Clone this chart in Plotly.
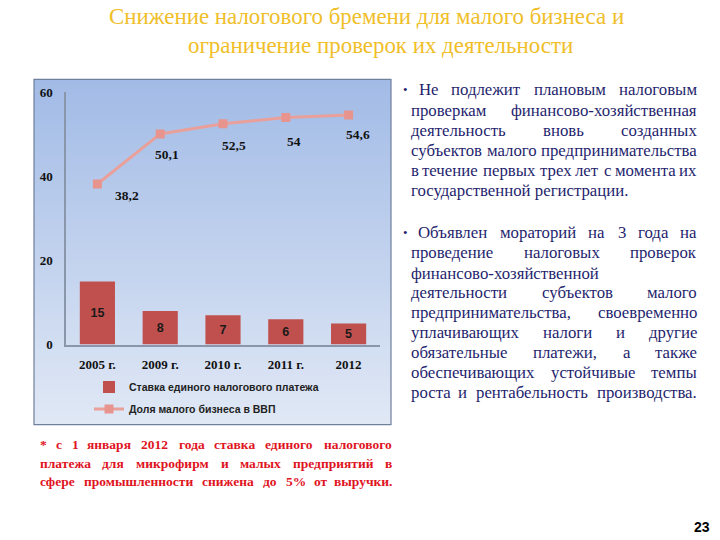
import plotly.graph_objects as go

# ---------------- data ----------------
years = ["2005 г.", "2009 г.", "2010 г.", "2011 г.", "2012"]
tax_rate = [15, 8, 7, 6, 5]
sme_share = [38.2, 50.1, 52.5, 54, 54.6]
share_labels = ["38,2", "50,1", "52,5", "54", "54,6"]
y_ticks = [0, 20, 40, 60]

title_lines = ["Снижение налогового бремени для малого бизнеса и",
               "ограничение проверок их деятельности"]

block1 = ["Не подлежит плановым налоговым",
          "проверкам финансово-хозяйственная",
          "деятельность вновь созданных",
          "субъектов малого предпринимательства",
          "в течение первых трех лет с момента их",
          "государственной регистрации."]
block2 = ["Объявлен мораторий на 3 года на",
          "проведение налоговых проверок",
          "финансово-хозяйственной",
          "деятельности субъектов малого",
          "предпринимательства, своевременно",
          "уплачивающих налоги и другие",
          "обязательные платежи, а также",
          "обеспечивающих устойчивые темпы",
          "роста и рентабельность производства."]
footnote = ["* с 1 января 2012 года ставка единого налогового",
            "платежа для микрофирм и малых предприятий в",
            "сфере промышленности снижена до 5% от выручки."]
page_no = "23"

SERIF = "Liberation Serif, Times New Roman, Tinos, DejaVu Serif, serif"
SANS = "Liberation Sans, Arial, DejaVu Sans, sans-serif"

# ---------------- layout helpers ----------------
W, H = 720, 540
VS = 556 / 540          # vertical compensation for the capture
def px(x): return x / W
def py(y): return 1 - (y * VS - 8) / H

GLYPH = {"а":444,"б":500,"в":472,"г":410,"д":510,"е":444,"ё":444,"ж":691,"з":395,"и":535,
         "й":535,"к":486,"л":499,"м":633,"н":535,"о":500,"п":535,"р":500,"с":444,"т":437,
         "у":500,"ф":648,"х":500,"ц":535,"ч":503,"ш":770,"щ":770,"ъ":517,"ы":672,"ь":456,
         "э":441,"ю":747,"я":485,"Н":722,"О":722,"С":667," ":250,".":250,",":250,"-":333,
         "%":833,"*":500}
def tw(s, size, bold=False):
    return sum(GLYPH.get(c, 500) for c in s) / 1000 * size * (1.08 if bold else 1.0)

annotations = []
def add_text(text, x, y, size, color, bold=False, anchor="left", family=SERIF):
    annotations.append(dict(text=text, x=px(x), y=py(y), xref="paper", yref="paper",
                            xanchor=anchor, yanchor="middle", showarrow=False,
                            borderpad=0,
                            font=dict(family=family, size=size, color=color,
                                      weight="bold" if bold else "normal")))

def add_line(text, x0, x1, y, size, color, bold=False, justify=True):
    words = text.split()
    if not justify or len(words) == 1:
        add_text(text, x0, y, size, color, bold)
        return
    widths = [tw(w, size, bold) for w in words]
    gap = (x1 - x0 - sum(widths)) / (len(words) - 1)
    x = x0
    for i, w in enumerate(words):
        if i == 0:
            add_text(w, x0, y, size, color, bold, "left")
        elif i == len(words) - 1:
            add_text(w, x1, y, size, color, bold, "right")
        else:
            add_text(w, x + widths[i] / 2, y, size, color, bold, "center")
        x += widths[i] + gap

# ---------------- figure ----------------
fig = go.Figure()
fig.add_trace(go.Bar(
    x=years, y=tax_rate, name="Ставка единого налогового платежа",
    marker=dict(color="#C0504D", line=dict(width=0)),
    text=[str(v) for v in tax_rate], textposition="inside", insidetextanchor="middle",
    textfont=dict(family=SANS, size=12.5, color="#1a1a1a", weight="bold"),
    legendgroup="a", hoverinfo="skip"))
fig.add_trace(go.Scatter(
    x=years, y=sme_share, name="Доля малого бизнеса в ВВП", mode="lines+markers",
    line=dict(color="#E9A09A", width=3),
    marker=dict(symbol="square", size=9, color="#E8948E"),
    legendgroup="b", hoverinfo="skip"))

# line value labels (x given as category index so "2012" is not read as a number)
label_shift = [(30, -11), (7, -20), (11, -21), (8, -23), (9, -19)]
for i, (yv, lab, (dx, dy)) in enumerate(zip(sme_share, share_labels, label_shift)):
    annotations.append(dict(text=lab, x=i, y=yv, xref="x", yref="y", showarrow=False,
                            xshift=dx, yshift=dy * VS,
                            font=dict(family=SERIF, size=13.5, color="#111111",
                                      weight="bold")))

# panel gradient background
shapes = []
top, bot, left, right = 80, 425, 34, 391
c0 = (0xA2, 0xBB, 0xE6)
c1 = (0xE0, 0xE8, 0xF5)
n = 69
for i in range(n):
    t = i / (n - 1)
    col = tuple(round(c0[k] + (c1[k] - c0[k]) * t) for k in range(3))
    y0 = top + (bot - top) * i / n
    y1 = top + (bot - top) * (i + 1) / n + 0.6
    shapes.append(dict(type="rect", xref="paper", yref="paper", layer="below",
                       x0=px(left), x1=px(right), y0=py(min(y1, bot)), y1=py(y0),
                       line=dict(width=0), fillcolor="rgb(%d,%d,%d)" % col))
shapes.append(dict(type="rect", xref="paper", yref="paper", layer="below",
                   x0=px(left), x1=px(right), y0=py(bot), y1=py(top),
                   line=dict(width=1.2, color="#6F7F9C"), fillcolor="rgba(0,0,0,0)"))

# title
add_text(title_lines[0], 108, 17, 22.9, "#F0BE28")
add_text(title_lines[1], 187, 46, 22.9, "#F0BE28")

# right text
navy = "#1F1F6E"
y1s = [90.5, 111, 131, 151, 171.5, 191.5]
y2s = [233, 253.5, 273.5, 293, 313, 333, 353, 373, 393]
just1 = [True, True, True, True, True, False]
just2 = [True, True, False, True, True, True, True, True, True]
for i, (t, y, j) in enumerate(zip(block1, y1s, just1)):
    add_line(t, 418 if i == 0 else 410, 698, y, 16.8, navy, False, j)
for i, (t, y, j) in enumerate(zip(block2, y2s, just2)):
    add_line(t, 417 if i == 0 else 410, 698, y, 16.8, navy, False, j)
add_text("•", 402, 90.5, 13, navy)
add_text("•", 402, 233, 13, navy)

# footnote
for t, y in zip(footnote, [445, 463.5, 481.5]):
    add_line(t, 39, 393, y, 13.5, "#E0141E", True, True)

add_text(page_no, 711, 527, 14, "#000000", True, "right", SANS)

fig.update_layout(
    width=W, height=H, autosize=False,
    margin=dict(l=0, r=0, t=0, b=0),
    paper_bgcolor="white", plot_bgcolor="rgba(0,0,0,0)",
    bargap=0.44,
    showlegend=True,
    legend=dict(x=px(89), y=py(373), xanchor="left", yanchor="top",
                bgcolor="rgba(0,0,0,0)", traceorder="grouped", tracegroupgap=3,
                itemwidth=30,
                font=dict(family=SANS, size=10.5, color="#222222", weight="bold")),
    xaxis=dict(type="category", categoryorder="array", categoryarray=years,
               range=[-0.5, len(years) - 0.5], autorange=False,
               domain=[px(66), px(380)], showgrid=False, zeroline=False,
               showline=True, linecolor="#8A96AA", linewidth=1.5, ticks="",
               ticklabelstandoff=7,
               tickfont=dict(family=SERIF, size=13, color="#111111", weight="bold"),
               fixedrange=True),
    yaxis=dict(domain=[py(345), py(93)], range=[0, 60], autorange=False, tickvals=y_ticks,
               showgrid=False, zeroline=False, showline=True, linecolor="#8A96AA",
               linewidth=1.5, ticks="", ticklabelstandoff=9,
               tickfont=dict(family=SERIF, size=13, color="#111111", weight="bold"),
               fixedrange=True),
    shapes=shapes, annotations=annotations,
)
css_fix = ("var s=document.createElement('style');"
           "s.textContent='html,body{margin:0!important;padding:0!important;overflow:hidden;}';"
           "document.head.appendChild(s);")
fig.write_html("out.html", config={"displayModeBar": False}, post_script=css_fix)
